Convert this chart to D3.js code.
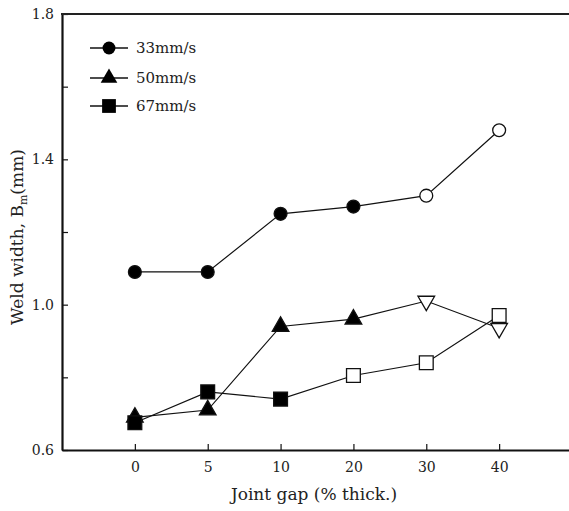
<!DOCTYPE html>
<html>
<head>
<meta charset="utf-8">
<script src="https://cdn.jsdelivr.net/npm/d3@7"></script>
<style>
  body { margin: 0; background: #fff; }
  svg { display: block; }
  .axis text { font-family: "DejaVu Serif", "Liberation Serif", serif; font-size: 14px; fill: #222; }
  .axis path, .axis line { stroke: #111; }
  .lbl { font-family: "DejaVu Serif", "Liberation Serif", serif; font-size: 15px; fill: #222; }
  .title { font-family: "DejaVu Serif", "Liberation Serif", serif; font-size: 17px; fill: #222; }
</style>
</head>
<body>
<svg id="chart"></svg>
<script>
// gap categories (% thick.)
var gaps = ['0', '5', '10', '20', '30', '40'];
var yTicks = [0.6, 0.8, 1.0, 1.2, 1.4, 1.6, 1.8];
var yLabels = [0.6, 1.0, 1.4, 1.8];

// weld width Bm (mm) per welding speed
var v33 = [1.09, 1.09, 1.25, 1.27, 1.30, 1.48];
var v50 = [0.69, 0.71, 0.94, 0.96, 1.01, 0.935];
var v67 = [0.675, 0.76, 0.74, 0.805, 0.84, 0.97];

// how many leading points are filled markers (the rest are open)
var filled33 = 4, filled50 = 4, filled67 = 3;

var series = [
  {name: '33mm/s', values: v33, shape: 'circle', filled: filled33},
  {name: '50mm/s', values: v50, shape: 'triangle', filled: filled50},
  {name: '67mm/s', values: v67, shape: 'square', filled: filled67}
];

var width = 569, height = 511;
var mLeft = 62, mTop = 14, mBottom = 450, mRight = 572;

var svg = d3.select('#chart').attr('width', width).attr('height', height);

var x = d3.scalePoint().domain(gaps).range([mLeft, mRight]).padding(1);
var y = d3.scaleLinear().domain([0.6, 1.8]).range([mBottom, mTop]);

// x-axis
var xAxis = d3.axisBottom(x).tickSizeInner(-6).tickSizeOuter(0).tickPadding(12);
svg.append('g').attr('class', 'axis')
  .attr('transform', 'translate(0,' + mBottom + ')')
  .call(xAxis)
  .call(function(g){ g.select('.domain').attr('stroke-width', 2.2); g.selectAll('.tick line').attr('stroke-width', 1.2); });

// y-axis
var yAxis = d3.axisLeft(y).tickValues(yTicks).tickSizeInner(-6).tickSizeOuter(0).tickPadding(8)
  .tickFormat(function(d){ return yLabels.indexOf(d) >= 0 ? d3.format('.1f')(d) : ''; });
svg.append('g').attr('class', 'axis')
  .attr('transform', 'translate(' + mLeft + ',0)')
  .call(yAxis)
  .call(function(g){ g.select('.domain').attr('stroke-width', 2.2); g.selectAll('.tick line').attr('stroke-width', 1.2); });

// top frame line
svg.append('line')
  .attr('x1', mLeft - 1).attr('x2', width).attr('y1', mTop).attr('y2', mTop)
  .attr('stroke', '#222').attr('stroke-width', 2.2);

var line = d3.line()
  .x(function(d, i){ return x(gaps[i]); })
  .y(function(d){ return y(d); });

var sym = {
  circle: d3.symbol().type(d3.symbolCircle).size(130),
  square: d3.symbol().type(d3.symbolSquare).size(190),
  triangle: d3.symbol().type(d3.symbolTriangle).size(120)
};

var plot = svg.append('g');

series.forEach(function(s){
  plot.append('path')
    .datum(s.values)
    .attr('d', line)
    .attr('fill', 'none')
    .attr('stroke', '#111')
    .attr('stroke-width', 1.2);

  plot.selectAll(null)
    .data(s.values)
    .enter()
    .append('path')
    .attr('d', sym[s.shape])
    .attr('transform', function(d, i){
      var t = 'translate(' + x(gaps[i]) + ',' + y(d) + ')';
      // open triangles are drawn pointing down
      if (s.shape === 'triangle' && i >= s.filled) t += ' rotate(180)';
      return t;
    })
    .attr('fill', function(d, i){ return i < s.filled ? '#000' : '#fff'; })
    .attr('stroke', '#111')
    .attr('stroke-width', 1.3);
});

// legend
var legendY = [48, 78, 106];
var legend = svg.append('g');
series.forEach(function(s, i){
  var g = legend.append('g').attr('transform', 'translate(0,' + legendY[i] + ')');
  g.append('line').attr('x1', 90).attr('x2', 128).attr('y1', 0).attr('y2', 0)
    .attr('stroke', '#111').attr('stroke-width', 1.5);
  g.append('path').attr('d', sym[s.shape]).attr('transform', 'translate(109,0)').attr('fill', '#000');
  g.append('text').attr('class', 'lbl').attr('x', 136).attr('y', 5).text(s.name);
});

// axis titles
svg.append('text').attr('class', 'title')
  .attr('x', 314).attr('y', 500).attr('text-anchor', 'middle')
  .text('Joint gap (% thick.)');

var yt = svg.append('text').attr('class', 'title')
  .attr('transform', 'translate(23,237) rotate(-90)')
  .attr('text-anchor', 'middle');
yt.append('tspan').text('Weld width, B');
yt.append('tspan').attr('font-size', '11px').attr('dy', 4).text('m');
yt.append('tspan').attr('dy', -4).text('(mm)');
</script>
</body>
</html>
